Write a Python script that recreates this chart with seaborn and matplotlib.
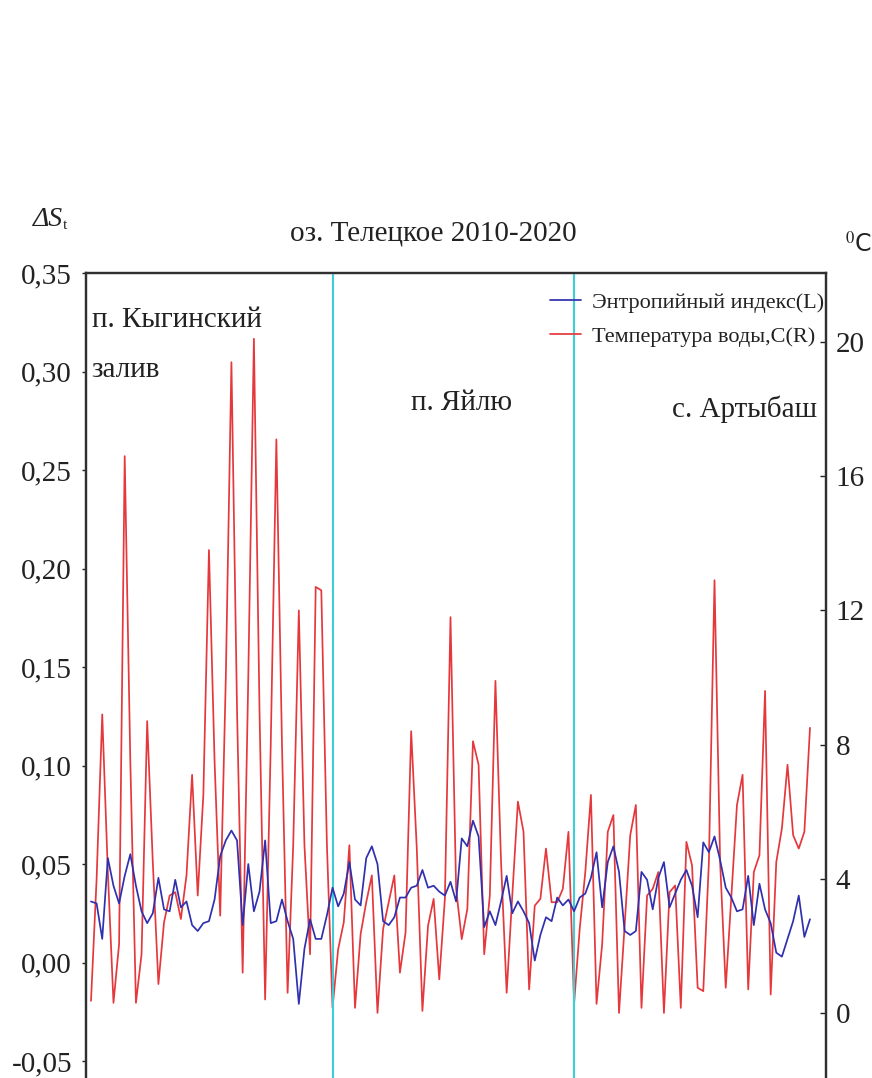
import numpy as np
import pandas as pd
import matplotlib
matplotlib.use("Agg")
import matplotlib.pyplot as plt
import seaborn as sns

# ---- data ----
# Entropy index ΔS_t (left axis), three stations in sequence
ent_kyga = [0.031, 0.030, 0.012, 0.053, 0.039, 0.030, 0.044, 0.055, 0.039, 0.026,
            0.020, 0.025, 0.043, 0.027, 0.026, 0.042, 0.028, 0.031, 0.019, 0.016,
            0.020, 0.021, 0.032, 0.054, 0.062, 0.067, 0.062, 0.019, 0.050, 0.026,
            0.036, 0.062, 0.020, 0.021, 0.032, 0.021, 0.012, -0.021, 0.007, 0.022,
            0.012, 0.012, 0.024, 0.038]
ent_yaylu = [0.0285, 0.035, 0.051, 0.032, 0.029, 0.053, 0.059, 0.050, 0.021, 0.019,
             0.023, 0.033, 0.033, 0.038, 0.039, 0.047, 0.038, 0.039, 0.036, 0.034,
             0.041, 0.031, 0.063, 0.059, 0.072, 0.064, 0.018, 0.026, 0.019, 0.031,
             0.044, 0.025, 0.031, 0.026, 0.020, 0.001, 0.014, 0.023, 0.021, 0.033,
             0.029, 0.032]
ent_arty = [0.026, 0.033, 0.035, 0.043, 0.056, 0.028, 0.051, 0.059, 0.046, 0.016,
            0.014, 0.016, 0.046, 0.042, 0.027, 0.043, 0.051, 0.028, 0.035, 0.042,
            0.047, 0.039, 0.023, 0.061, 0.056, 0.064, 0.052, 0.038, 0.033, 0.026,
            0.027, 0.044, 0.019, 0.040, 0.027, 0.020, 0.005, 0.003, 0.012, 0.021,
            0.034, 0.013, 0.022]

# Water temperature, °C (right axis)
temp_kyga = [0.36, 4.0, 8.9, 4.2, 0.3, 2.05, 16.6, 7.5, 0.3, 1.75,
             8.7, 4.5, 0.86, 2.7, 3.5, 3.6, 2.8, 4.1, 7.1, 3.5,
             6.5, 13.8, 7.5, 2.9, 10.0, 19.4, 9.0, 1.2, 10.0, 20.1,
             9.0, 0.4, 8.0, 17.1, 8.0, 0.6, 5.0, 12.0, 5.0, 1.75,
             12.7, 12.6, 5.0, 0.15]
temp_yaylu = [1.9, 2.7, 5.0, 0.15, 2.35, 3.3, 4.1, 0.0, 2.5, 3.3,
              4.1, 1.2, 2.4, 8.4, 4.9, 0.06, 2.6, 3.4, 1.0, 3.4,
              11.8, 3.7, 2.2, 3.1, 8.1, 7.4, 1.75, 3.5, 9.9, 4.5,
              0.6, 3.5, 6.3, 5.4, 0.7, 3.2, 3.4, 4.9, 3.3, 3.3,
              3.7, 5.4]
temp_arty = [0.27, 2.5, 4.2, 6.5, 0.27, 2.05, 5.4, 5.9, 0.0, 2.6,
             5.3, 6.2, 0.15, 3.5, 3.7, 4.2, 0.0, 3.6, 3.8, 0.15,
             5.1, 4.4, 0.75, 0.65, 4.5, 12.9, 4.5, 0.75, 3.5, 6.2,
             7.1, 0.7, 4.2, 4.7, 9.6, 0.55, 4.5, 5.5, 7.4, 5.3,
             4.9, 5.4, 8.5]

station_bounds = [43, 86]
left_ticks = [-0.05, 0.00, 0.05, 0.10, 0.15, 0.20, 0.25, 0.30, 0.35]
left_tick_labels = ["-0,05", "0,00", "0,05", "0,10", "0,15", "0,20", "0,25", "0,30", "0,35"]
right_ticks = [0, 4, 8, 12, 16, 20]
right_tick_labels = ["0", "4", "8", "12", "16", "20"]

title = "оз. Телецкое 2010-2020"
lbl_entropy = "Энтропийный индекс(L)"
lbl_temp = "Температура воды,C(R)"
stations = ["п. Кыгинский", "залив", "п. Яйлю", "с. Артыбаш"]

entropy = ent_kyga + ent_yaylu + ent_arty
temp = temp_kyga + temp_yaylu + temp_arty
df = pd.DataFrame({"t": np.arange(len(entropy)), "entropy": entropy, "temp": temp})

# ---- style ----
sns.set_theme(style="ticks")
plt.rcParams["font.family"] = ["Liberation Serif", "DejaVu Serif"]
plt.rcParams["mathtext.fontset"] = "stix"

W, H = 872, 1078
fig = plt.figure(figsize=(W / 100, H / 100), dpi=100)
fig.patch.set_facecolor("white")
ax = fig.add_axes([86 / W, 0.0, 740 / W, 1 - 273 / H])
ax2 = ax.twinx()

blue = "#3030ae"
red = "#e5383c"
cyan = "#3ccfd6"
ink = "#222222"

sns.lineplot(data=df, x="t", y="temp", ax=ax2, color=red, lw=1.25, legend=False)
sns.lineplot(data=df, x="t", y="entropy", ax=ax, color=blue, lw=1.25, legend=False)

ax.set_zorder(ax2.get_zorder() + 1)
ax.patch.set_visible(False)

for b in station_bounds:
    ax.axvline(b, color=cyan, lw=1.5, zorder=0)

ax.set_xlim(-0.89, 130.85)
ax.set_ylim(-0.0586, 0.35)
ax2.set_ylim(-1.94, 22.06)

ax.set_xticks([])
ax.set_xlabel("")
ax.set_ylabel("")
ax2.set_ylabel("")
ax.set_yticks(left_ticks)
ax.set_yticklabels(left_tick_labels)
ax2.set_yticks(right_ticks)
ax2.set_yticklabels(right_tick_labels)
ax.tick_params(axis="y", direction="out", length=3, width=1, pad=7, labelsize=21, colors=ink)
ax2.tick_params(axis="y", direction="in", length=4, width=1, pad=7, labelsize=21, colors=ink)

for a in (ax, ax2):
    for s in ("top", "left", "right"):
        a.spines[s].set_color("#303030")
        a.spines[s].set_linewidth(1.6)
    a.spines["bottom"].set_visible(False)

# legend
h1 = ax.get_lines()[0]
h2 = ax2.get_lines()[0]
leg = ax.legend([h1, h2], [lbl_entropy, lbl_temp], loc="upper right",
                bbox_to_anchor=(824 / W, 1 - 292 / H), bbox_transform=fig.transFigure,
                frameon=False, fontsize=16, handlelength=1.4, handletextpad=0.5,
                labelspacing=0.62, borderpad=0, borderaxespad=0)
for t in leg.get_texts():
    t.set_color(ink)

# texts
fig.text(433 / W, 1 - 241 / H, title, ha="center", va="baseline", fontsize=21, color=ink)
fig.text(33 / W, 1 - 226 / H, "ΔS", ha="left", va="baseline", fontsize=20,
         fontstyle="italic", color=ink)
fig.text(63 / W, 1 - 229 / H, "t", ha="left", va="baseline", fontsize=11, color=ink)
fig.text(845 / W, 1 - 252 / H, r"$^{0}$C", ha="left", va="baseline", fontsize=17,
         family="DejaVu Sans", color=ink)

fig.text(92 / W, 1 - 327 / H, stations[0], ha="left", va="baseline", fontsize=21, color=ink)
fig.text(91 / W, 1 - 377 / H, stations[1], ha="left", va="baseline", fontsize=21, color=ink)
fig.text(462 / W, 1 - 410 / H, stations[2], ha="center", va="baseline", fontsize=21, color=ink)
fig.text(817 / W, 1 - 417 / H, stations[3], ha="right", va="baseline", fontsize=21, color=ink)

fig.savefig("out.png", dpi=100, facecolor="white")
